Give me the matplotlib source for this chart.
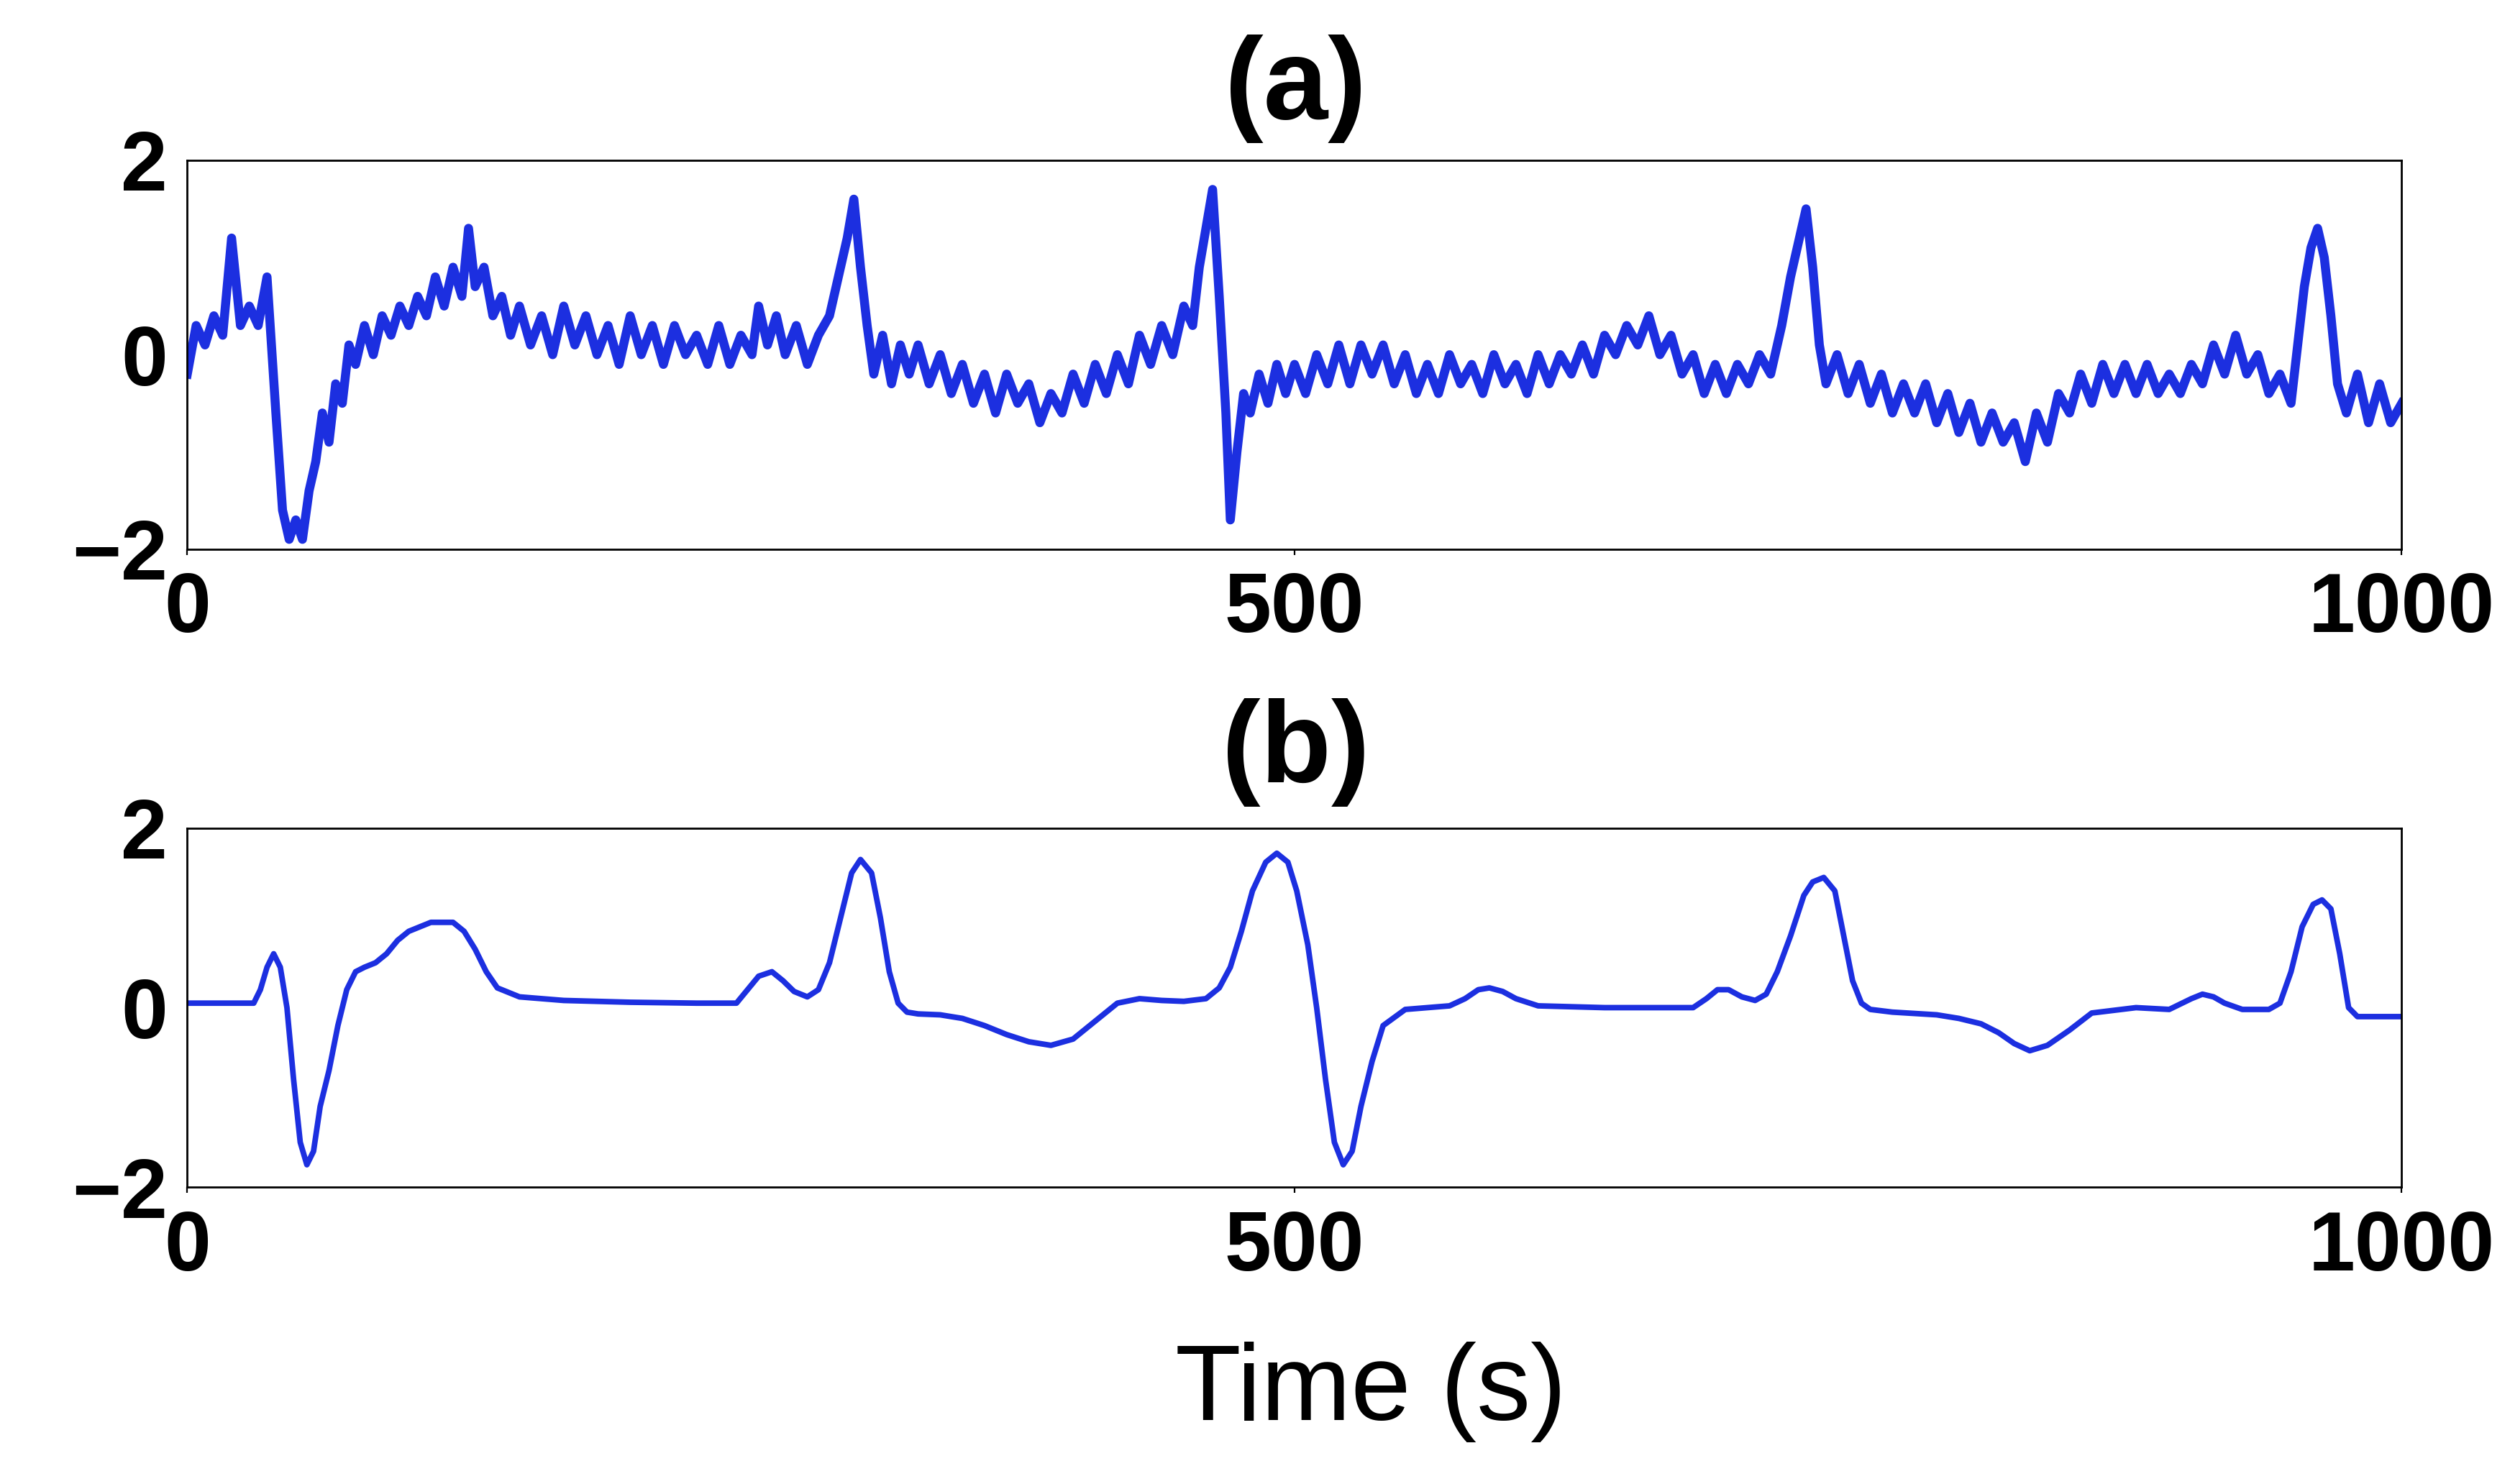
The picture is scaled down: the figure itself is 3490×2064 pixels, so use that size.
import numpy as np
import matplotlib.pyplot as plt

# (a) noisy signal
t_a = [0, 4, 8, 12, 16, 20, 24, 28, 32, 36, 40, 43, 46, 49, 52, 55, 58, 61, 64, 67, 70, 73, 76, 80, 84, 88, 92, 96,
       100, 104, 108, 112, 116, 120, 124, 127, 130, 134, 138, 142, 146, 150, 155, 160, 165, 170, 175, 180, 185, 190,
       195, 200, 205, 210, 215, 220, 225, 230, 235, 240, 245, 250, 255, 258, 262, 266, 270, 275, 280, 285, 290, 294,
       298, 301, 304, 307, 310, 314, 318, 322, 326, 330, 335, 340, 345, 350, 355, 360, 365, 370, 375, 380, 385, 390,
       395, 400, 405, 410, 415, 420, 425, 430, 435, 440, 445, 450, 454, 457, 460, 463, 466, 469, 471, 474, 477, 480,
       484, 488, 492, 496, 500, 505, 510, 515, 520, 525, 530, 535, 540, 545, 550, 555, 560, 565, 570, 575, 580, 585,
       590, 595, 600, 605, 610, 615, 620, 625, 630, 635, 640, 645, 650, 655, 660, 665, 670, 675, 680, 685, 690, 695,
       700, 705, 710, 715, 720, 724, 728, 731, 734, 737, 740, 745, 750, 755, 760, 765, 770, 775, 780, 785, 790, 795,
       800, 805, 810, 815, 820, 825, 830, 835, 840, 845, 850, 855, 860, 865, 870, 875, 880, 885, 890, 895, 900, 905,
       910, 915, 920, 925, 930, 935, 940, 945, 950, 953, 956, 959, 962, 965, 968, 971, 975, 980, 985, 990, 995, 1000]
v_a = [-0.2, 0.3, 0.1, 0.4, 0.2, 1.2, 0.3, 0.5, 0.3, 0.8, -0.6, -1.6, -1.9, -1.7, -1.9, -1.4, -1.1, -0.6, -0.9, -0.3,
       -0.5, 0.1, -0.1, 0.3, 0.0, 0.4, 0.2, 0.5, 0.3, 0.6, 0.4, 0.8, 0.5, 0.9, 0.6, 1.3, 0.7, 0.9, 0.4, 0.6, 0.2, 0.5,
       0.1, 0.4, 0.0, 0.5, 0.1, 0.4, 0.0, 0.3, -0.1, 0.4, 0.0, 0.3, -0.1, 0.3, 0.0, 0.2, -0.1, 0.3, -0.1, 0.2, 0.0, 0.5,
       0.1, 0.4, 0.0, 0.3, -0.1, 0.2, 0.4, 0.8, 1.2, 1.6, 0.9, 0.3, -0.2, 0.2, -0.3, 0.1, -0.2, 0.1, -0.3, 0.0, -0.4,
       -0.1, -0.5, -0.2, -0.6, -0.2, -0.5, -0.3, -0.7, -0.4, -0.6, -0.2, -0.5, -0.1, -0.4, 0.0, -0.3, 0.2, -0.1, 0.3,
       0.0, 0.5, 0.3, 0.9, 1.3, 1.7, 0.6, -0.6, -1.7, -1.0, -0.4, -0.6, -0.2, -0.5, -0.1, -0.4, -0.1, -0.4, 0.0, -0.3,
       0.1, -0.3, 0.1, -0.2, 0.1, -0.3, 0.0, -0.4, -0.1, -0.4, 0.0, -0.3, -0.1, -0.4, 0.0, -0.3, -0.1, -0.4, 0.0, -0.3,
       0.0, -0.2, 0.1, -0.2, 0.2, 0.0, 0.3, 0.1, 0.4, 0.0, 0.2, -0.2, 0.0, -0.4, -0.1, -0.4, -0.1, -0.3, 0.0, -0.2, 0.3,
       0.8, 1.2, 1.5, 0.9, 0.1, -0.3, 0.0, -0.4, -0.1, -0.5, -0.2, -0.6, -0.3, -0.6, -0.3, -0.7, -0.4, -0.8, -0.5, -0.9,
       -0.6, -0.9, -0.7, -1.1, -0.6, -0.9, -0.4, -0.6, -0.2, -0.5, -0.1, -0.4, -0.1, -0.4, -0.1, -0.4, -0.2, -0.4, -0.1,
       -0.3, 0.1, -0.2, 0.2, -0.2, 0.0, -0.4, -0.2, -0.5, 0.1, 0.7, 1.1, 1.3, 1.0, 0.4, -0.3, -0.6, -0.2, -0.7, -0.3,
       -0.7, -0.5]

# (b) clean signal as (time, value) pairs
pts_b = [(0, 0.05), (30, 0.05), (33, 0.2), (36, 0.45), (39, 0.6), (42, 0.45), (45, 0.0), (48, -0.8), (51, -1.5),
         (54, -1.75), (57, -1.6), (60, -1.1), (64, -0.7), (68, -0.2), (72, 0.2), (76, 0.4), (80, 0.45), (85, 0.5),
         (90, 0.6), (95, 0.75), (100, 0.85), (110, 0.95), (120, 0.95), (125, 0.85), (130, 0.65), (135, 0.4),
         (140, 0.22), (150, 0.12), (170, 0.08), (200, 0.06), (230, 0.05), (248, 0.05), (253, 0.2), (258, 0.35),
         (264, 0.4), (269, 0.3), (274, 0.18), (280, 0.12), (285, 0.2), (290, 0.5), (295, 1.0), (300, 1.5),
         (304, 1.65), (309, 1.5), (313, 1.0), (317, 0.4), (321, 0.05), (325, -0.05), (330, -0.07), (340, -0.08),
         (350, -0.12), (360, -0.2), (370, -0.3), (380, -0.38), (390, -0.42), (400, -0.35), (410, -0.15),
         (420, 0.05), (430, 0.1), (440, 0.08), (450, 0.07), (460, 0.1), (466, 0.22), (471, 0.45), (476, 0.85),
         (481, 1.3), (487, 1.62), (492, 1.72), (497, 1.62), (501, 1.3), (506, 0.7), (510, 0.0), (514, -0.8),
         (518, -1.5), (522, -1.75), (526, -1.6), (530, -1.1), (535, -0.6), (540, -0.2), (550, -0.02), (560, 0.0),
         (570, 0.02), (577, 0.1), (583, 0.2), (588, 0.22), (594, 0.18), (600, 0.1), (610, 0.02), (640, 0.0),
         (670, 0.0), (680, 0.0), (686, 0.1), (691, 0.2), (696, 0.2), (702, 0.12), (708, 0.08), (713, 0.15),
         (718, 0.4), (724, 0.8), (730, 1.25), (734, 1.4), (739, 1.45), (744, 1.3), (748, 0.8), (752, 0.3),
         (756, 0.05), (760, -0.02), (770, -0.05), (790, -0.08), (800, -0.12), (810, -0.18), (818, -0.28),
         (825, -0.4), (832, -0.48), (840, -0.42), (850, -0.25), (860, -0.06), (880, 0.0), (895, -0.02),
         (905, 0.1), (910, 0.15), (915, 0.12), (920, 0.05), (928, -0.02), (940, -0.02), (945, 0.05), (950, 0.4),
         (955, 0.9), (960, 1.15), (964, 1.2), (968, 1.1), (972, 0.6), (976, 0.0), (980, -0.1), (1000, -0.1)]
t_b = [p[0] for p in pts_b]
v_b = [p[1] for p in pts_b]

blue = "#1c2fe0"

fig = plt.figure(figsize=(17.455, 10.32), dpi=200)
ax1 = fig.add_axes([0.0746, 0.630, 0.882, 0.262])
ax2 = fig.add_axes([0.0746, 0.200, 0.882, 0.242])

ax1.plot(t_a, v_a, color=blue, lw=4.5, solid_joinstyle="round")
ax2.plot(t_b, v_b, color=blue, lw=2.8, solid_joinstyle="round")

for ax in (ax1, ax2):
    ax.set_xlim(0, 1000)
    ax.set_ylim(-2, 2)
    ax.set_xticks([0, 500, 1000])
    ax.set_yticks([-2, 0, 2])
    ax.tick_params(axis="y", length=0, pad=10, labelsize=42)
    ax.tick_params(axis="x", length=3, width=0.8, pad=8, labelsize=42)
    for lab in ax.get_xticklabels() + ax.get_yticklabels():
        lab.set_fontweight("bold")
        lab.set_family("Liberation Sans")
    for s in ax.spines.values():
        s.set_linewidth(1.0)

fig.text(0.516, 0.94, "(a)", ha="center", va="center", fontsize=58, fontweight="bold", family="Liberation Sans")
fig.text(0.516, 0.493, "(b)", ha="center", va="center", fontsize=58, fontweight="bold", family="Liberation Sans")
fig.text(0.546, 0.062, "Time (s)", ha="center", va="center", fontsize=54, family="Liberation Sans")

fig.savefig("out.png", dpi=200)
